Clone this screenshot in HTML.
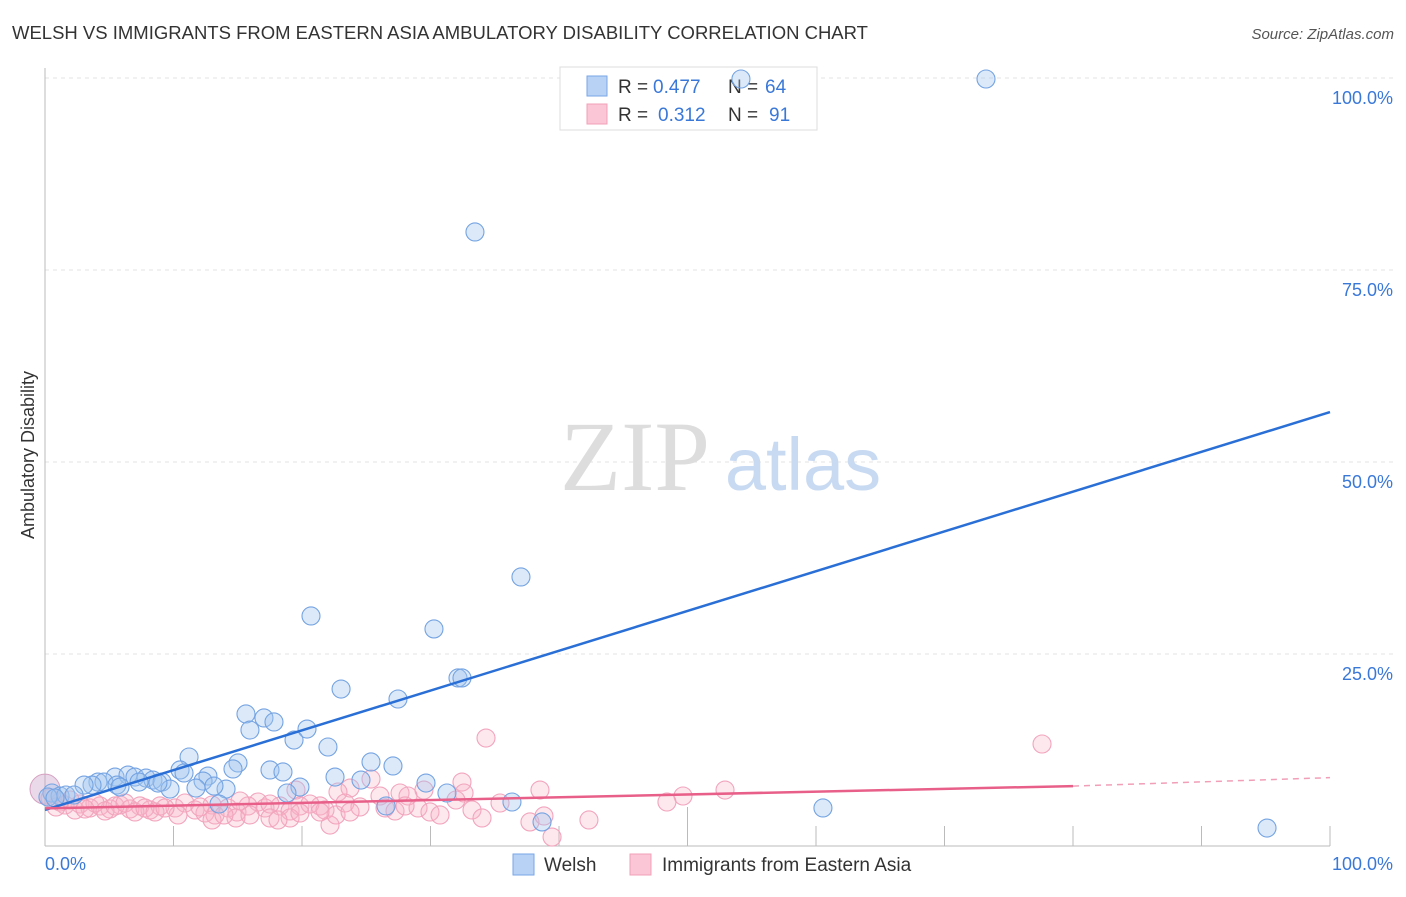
<!DOCTYPE html>
<html><head><meta charset="utf-8"><style>
body{margin:0;background:#fff;font-family:"Liberation Sans",sans-serif;}
</style></head><body>
<svg width="1406" height="892" xmlns="http://www.w3.org/2000/svg" style="font-family:'Liberation Sans',sans-serif">
<text x="12" y="39" font-size="18.5" fill="#333">WELSH VS IMMIGRANTS FROM EASTERN ASIA AMBULATORY DISABILITY CORRELATION CHART</text>
<text x="1394" y="39" font-size="15" fill="#555" font-style="italic" text-anchor="end">Source: ZipAtlas.com</text>
<g id="grid"></g>
<g><text x="635" y="490" font-size="100" fill="#ddd" text-anchor="middle" font-family="Liberation Serif,serif">ZIP</text><text x="803" y="490" font-size="74" fill="#c8daf2" text-anchor="middle">atlas</text></g>
<line x1="45" y1="68" x2="45" y2="846" stroke="#bbb"/>
<line x1="45" y1="846" x2="1330" y2="846" stroke="#bbb"/>
<g id="ticks"></g>
<g>
<rect x="560" y="67" width="257" height="63" fill="#fff" stroke="#ddd"/>
<rect x="587" y="76" width="20" height="20" fill="#b8d2f5" stroke="#7aa6e6"/>
<rect x="587" y="104" width="20" height="20" fill="#fbc6d6" stroke="#f2a0ba"/>
<text x="618" y="93" font-size="19" fill="#333">R =</text><text x="653" y="93" font-size="19" fill="#3a78d8">0.477</text>
<text x="728" y="93" font-size="19" fill="#333">N =</text><text x="765" y="93" font-size="19" fill="#3a78d8">64</text>
<text x="618" y="121" font-size="19" fill="#333">R =</text><text x="658" y="121" font-size="19" fill="#3a78d8">0.312</text>
<text x="728" y="121" font-size="19" fill="#333">N =</text><text x="769" y="121" font-size="19" fill="#3a78d8">91</text>
</g>
<g id="pts"></g>
<g id="lines"></g>
<text transform="translate(34,455) rotate(-90)" font-size="18" fill="#333" text-anchor="middle">Ambulatory Disability</text>
<text x="45" y="870" font-size="18" fill="#3a78d8">0.0%</text>
<text x="1393" y="870" font-size="18" fill="#3a78d8" text-anchor="end">100.0%</text>
<g>
<rect x="513" y="854" width="21" height="21" fill="#b8d2f5" stroke="#7aa6e6"/>
<text x="544" y="871" font-size="19" fill="#333">Welsh</text>
<rect x="630" y="854" width="21" height="21" fill="#fbc6d6" stroke="#f2a0ba"/>
<text x="662" y="871" font-size="19" fill="#333">Immigrants from Eastern Asia</text>
</g>
</svg>
<script>
const yTicks=[25,50,75,100];
const yTickLabels=["25.0%","50.0%","75.0%","100.0%"];
const xTicks=[0,10,20,30,40,50,60,70,80,90,100];
const welshPx=[[741,79],[986,79],[475,232],[521,577],[311,616],[434,629],[458,678],[462,678],[341,689],[398,699],[246,714],[264,718],[274,722],[250,730],[307,729],[294,740],[328,747],[189,757],[238,763],[371,762],[393,766],[180,770],[184,773],[233,769],[270,770],[283,772],[335,777],[361,780],[208,776],[203,781],[426,783],[115,777],[128,775],[135,777],[146,778],[153,780],[162,782],[98,782],[104,782],[92,785],[84,785],[139,782],[170,789],[196,788],[226,789],[214,786],[300,787],[287,793],[447,793],[512,802],[386,806],[219,804],[823,808],[542,822],[1267,828],[52,793],[60,796],[66,795],[74,795],[48,797],[55,798],[117,785],[120,787],[158,783]];
const immPx=[[486,738],[1042,744],[540,790],[725,790],[683,796],[667,802],[462,782],[371,779],[424,790],[464,793],[400,793],[408,796],[380,796],[350,788],[338,792],[296,790],[258,802],[280,806],[320,806],[228,808],[212,805],[175,808],[140,806],[120,805],[100,806],[80,804],[60,802],[50,798],[65,805],[90,808],[110,809],[130,809],[150,810],[160,806],[185,803],[195,810],[205,813],[215,815],[237,812],[248,806],[265,808],[270,804],[290,811],[300,806],[310,804],[325,810],[330,825],[336,815],[345,803],[360,807],[385,808],[395,811],[418,808],[430,812],[440,815],[472,810],[482,818],[500,803],[530,822],[544,816],[552,837],[589,820],[236,818],[270,818],[212,820],[178,815],[95,803],[70,800],[56,807],[75,810],[85,809],[105,811],[115,806],[125,803],[135,812],[145,808],[155,812],[165,808],[290,818],[278,820],[350,812],[300,813],[250,815],[200,807],[320,812],[405,806],[456,800],[224,815],[240,801]];
const welshX=welshPx.map(p=>+((p[0]-45)/12.85).toFixed(2));
const welshY=welshPx.map(p=>+((846-p[1])/7.68).toFixed(2));
const immX=immPx.map(p=>+((p[0]-45)/12.85).toFixed(2));
const immY=immPx.map(p=>+((846-p[1])/7.68).toFixed(2));
const welshTrend=[4.7,56.5];
const immTrend=[4.9,7.8,8.9];
const X=v=>45+v*12.85, Y=v=>846-v*7.68;
const NS="http://www.w3.org/2000/svg";
function mk(t,a,p){const e=document.createElementNS(NS,t);for(const k in a)e.setAttribute(k,a[k]);p.appendChild(e);return e;}
const grid=document.getElementById('grid');
yTicks.forEach((v,i)=>{
 const l=mk('line',{x1:45,x2:1393,y1:Y(v),y2:Y(v),stroke:'#e3e3e3','stroke-dasharray':'4,4'},grid);
 
 
 const t=mk('text',{x:1393,y:Y(v)+26,'font-size':18,fill:'#3a78d8','text-anchor':'end'},grid);
 t.textContent=yTickLabels[i];
 
 
});
const tk=document.getElementById('ticks');
xTicks.forEach(v=>{
 if(v===0)return;
 const l=mk('line',{x1:X(v),x2:X(v),y1:v===50?807:826,y2:846,stroke:'#bbb'},tk);
 
 
});
const pts=document.getElementById('pts');
let b=mk('circle',{cx:X(0),cy:Y(7.4),r:15,fill:'rgba(200,160,200,0.4)',stroke:'#d6a0c0'},pts);


immX.forEach((x,i)=>{const c=mk('circle',{cx:X(x),cy:Y(immY[i]),r:9,fill:'rgba(248,180,200,0.3)',stroke:'#f2a4bd','stroke-width':1.1},pts);
 
 });
welshX.forEach((x,i)=>{const c=mk('circle',{cx:X(x),cy:Y(welshY[i]),r:9,fill:'rgba(160,196,240,0.38)',stroke:'#74a3e2','stroke-width':1.1},pts);
 
 });
const ln=document.getElementById('lines');
let a=mk('line',{x1:X(0),y1:Y(welshTrend[0]),x2:X(100),y2:Y(welshTrend[1]),stroke:'#2a6fd6','stroke-width':2.5},ln);


let c2=mk('line',{x1:X(0),y1:Y(immTrend[0]),x2:X(80),y2:Y(immTrend[1]),stroke:'#e8608a','stroke-width':2.5},ln);


let d=mk('line',{x1:X(80),y1:Y(immTrend[1]),x2:X(100),y2:Y(immTrend[2]),stroke:'#e8608a','stroke-width':1.5,'stroke-dasharray':'6,5',opacity:0.6},ln);


</script>
</body></html>
